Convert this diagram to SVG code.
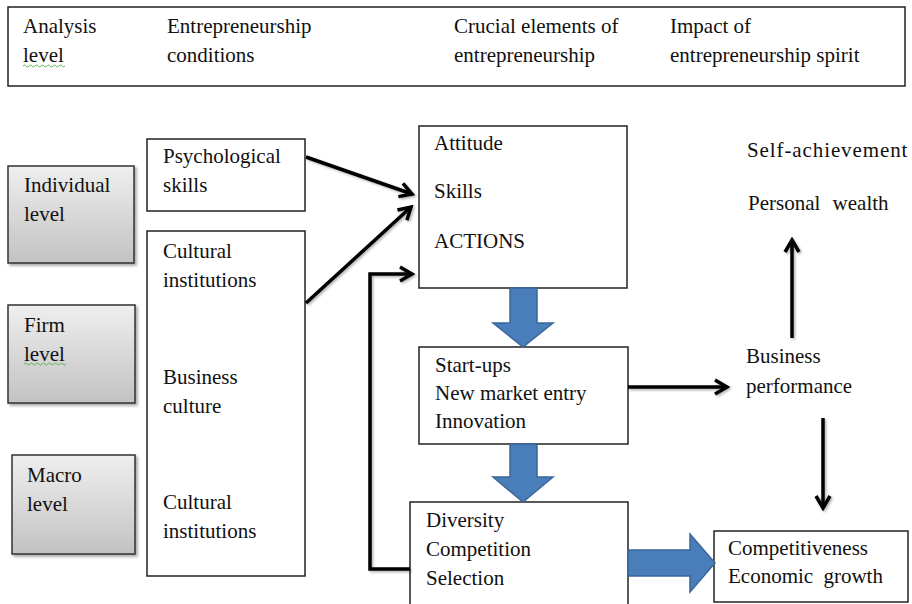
<svg xmlns="http://www.w3.org/2000/svg" width="912" height="604" viewBox="0 0 912 604" font-family="Liberation Serif, DejaVu Serif, serif" font-size="21">
<style>
text{fill:#111}
.box{fill:#fff;stroke:#222;stroke-width:1.5}
.lvl{fill:url(#g);stroke:#333;stroke-width:1.5;filter:url(#sh)}
.con{fill:none;stroke:#000;stroke-width:3.5;marker-end:url(#ah);filter:url(#lsh)}
.blk{fill:#4a7ebb;stroke:#3a679c;stroke-width:1.5}
.sq{fill:none;stroke:#5cb85c;stroke-width:1}
</style>
<defs>
<linearGradient id="g" x1="0" y1="0" x2="0" y2="1">
<stop offset="0" stop-color="#efefef"/>
<stop offset="1" stop-color="#c2c2c2"/>
</linearGradient>
<filter id="sh" x="-10%" y="-10%" width="130%" height="130%">
<feDropShadow dx="2" dy="2" stdDeviation="1.5" flood-color="#000" flood-opacity="0.35"/>
</filter>
<filter id="lsh" filterUnits="userSpaceOnUse" x="0" y="0" width="912" height="604">
<feDropShadow dx="1.5" dy="1.5" stdDeviation="1" flood-color="#000" flood-opacity="0.3"/>
</filter>
<marker id="ah" markerUnits="userSpaceOnUse" viewBox="0 0 18 18" markerWidth="18" markerHeight="18" refX="15" refY="9" orient="auto">
<path d="M3,2 L15,9 L3,16" fill="none" stroke="#000" stroke-width="3.5" stroke-linejoin="miter"/>
</marker>
</defs>

<g id="header">
<rect x="8" y="7" width="897" height="79" class="box"/>
<text x="23" y="33">Analysis</text>
<text x="23" y="62">level</text>
<path class="sq" d="M23,66 q1.5,-2 3,0 t3,0 t3,0 t3,0 t3,0 t3,0 t3,0 t3,0 t3,0 t3,0 t3,0 t3,0 t3,0 t3,0"/>
<text x="167" y="33">Entrepreneurship</text>
<text x="167" y="62">conditions</text>
<text x="454" y="33">Crucial elements of</text>
<text x="454" y="62">entrepreneurship</text>
<text x="670" y="33">Impact of</text>
<text x="670" y="62">entrepreneurship spirit</text>
</g>

<g id="individual-level">
<rect x="8" y="166" width="126" height="97" class="lvl"/>
<text x="24" y="192">Individual</text>
<text x="24" y="221">level</text>
</g>
<g id="firm-level">
<rect x="8" y="305" width="127" height="98" class="lvl"/>
<text x="24" y="332">Firm</text>
<text x="24" y="361">level</text>
<path class="sq" d="M24,364 q1.5,-2 3,0 t3,0 t3,0 t3,0 t3,0 t3,0 t3,0 t3,0 t3,0 t3,0 t3,0 t3,0 t3,0 t3,0"/>
</g>
<g id="macro-level">
<rect x="12" y="455" width="123" height="99" class="lvl"/>
<text x="27" y="482">Macro</text>
<text x="27" y="511">level</text>
</g>

<g id="psychological-skills">
<rect x="147" y="139" width="158" height="72" class="box"/>
<text x="163" y="163">Psychological</text>
<text x="163" y="192">skills</text>
</g>
<g id="cultural-conditions">
<rect x="147" y="231" width="158" height="345" class="box"/>
<text x="163" y="258">Cultural</text>
<text x="163" y="287">institutions</text>
<text x="163" y="384">Business</text>
<text x="163" y="413">culture</text>
<text x="163" y="509">Cultural</text>
<text x="163" y="538">institutions</text>
</g>

<g id="attitude">
<rect x="419" y="126" width="208" height="162" class="box"/>
<text x="434" y="150">Attitude</text>
<text x="434" y="198">Skills</text>
<text x="434" y="248">ACTIONS</text>
</g>
<g id="startups">
<rect x="419" y="347" width="209" height="97" class="box"/>
<text x="435" y="372">Start-ups</text>
<text x="435" y="400">New market entry</text>
<text x="435" y="428">Innovation</text>
</g>
<g id="diversity">
<rect x="410" y="502" width="218" height="110" class="box"/>
<text x="426" y="527">Diversity</text>
<text x="426" y="556">Competition</text>
<text x="426" y="585">Selection</text>
</g>

<g id="self-achievement">
<text x="747" y="157" letter-spacing="0.9">Self-achievement</text>
<text x="748" y="210" word-spacing="7">Personal wealth</text>
</g>
<g id="business-performance">
<text x="746" y="363">Business</text>
<text x="746" y="393">performance</text>
</g>
<g id="competitiveness">
<rect x="714" y="531" width="194" height="71" class="box"/>
<text x="728" y="555">Competitiveness</text>
<text x="728" y="583" word-spacing="5">Economic growth</text>
</g>

<g id="connectors">
<path class="con" d="M306,157 L412,194"/>
<path class="con" d="M306,303 L411,207"/>
<path class="con" d="M410,569 L370,569 L370,274 L412,274"/>
<path class="con" d="M628,387 L727,387"/>
<path class="con" d="M792,338 L792,240"/>
<path class="con" d="M823,418 L823,508"/>
<polygon class="blk" points="510,288 537,288 537,323 553,323 523,347 493,323 510,323"/>
<polygon class="blk" points="510,444 537,444 537,477 553,477 523,502 493,477 510,477"/>
<polygon class="blk" points="628,550 690,550 690,534 715,563 690,592 690,576 628,576"/>
</g>
</svg>
